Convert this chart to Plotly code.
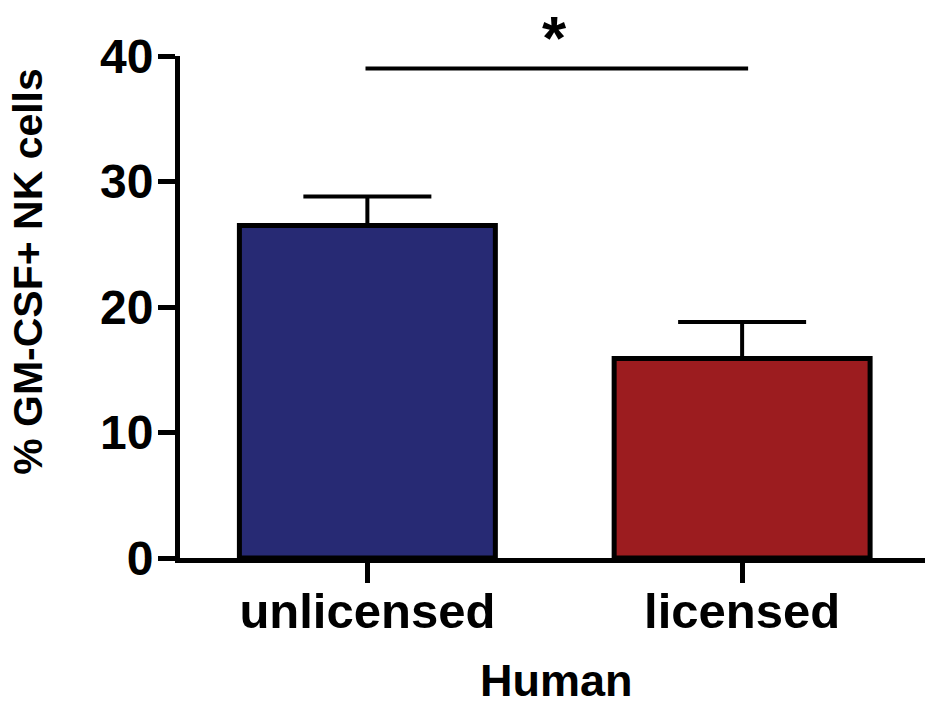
import plotly.graph_objects as go

categories = ["unlicensed", "licensed"]
means = [26.5, 15.9]
sem = [2.3, 2.9]
bar_colors = ["#272A74", "#9C1C1F"]
y_ticks = [0, 10, 20, 30, 40]
y_title = "% GM-CSF+ NK cells"
x_title = "Human"
sig_label = "*"
sig_level = 39.0

FONT = "Liberation Sans, Arial, sans-serif"

fig = go.Figure()
fig.add_trace(go.Bar(
    x=list(range(len(categories))),
    y=means,
    width=0.683,
    marker=dict(color=bar_colors, line=dict(color="black", width=5)),
    error_y=dict(type="data", symmetric=False, array=sem,
                 arrayminus=[0] * len(sem), color="black",
                 thickness=4, width=64),
    showlegend=False,
))

# significance bracket
fig.add_shape(type="line", xref="x", yref="y",
              x0=-0.005, x1=1.016, y0=sig_level, y1=sig_level,
              line=dict(color="black", width=4))
fig.add_annotation(x=0.5, y=1.036, xref="x", yref="paper",
                   text="<b>" + sig_label + "</b>", showarrow=False,
                   yanchor="middle",
                   font=dict(family=FONT, size=62, color="black"))

# axis titles
fig.add_annotation(xref="paper", yref="paper", x=0, y=0.57, xshift=-152,
                   text="<b>" + y_title + "</b>", textangle=-90,
                   showarrow=False, xanchor="center", yanchor="middle",
                   font=dict(family=FONT, size=41, color="black"))
fig.add_annotation(xref="paper", yref="paper", x=0.505, y=-0.245,
                   text="<b>" + x_title + "</b>", showarrow=False,
                   xanchor="center", yanchor="middle",
                   font=dict(family=FONT, size=45, color="black"))

fig.update_layout(
    width=925, height=709,
    margin=dict(l=180, r=0, t=56, b=151),
    paper_bgcolor="white", plot_bgcolor="white",
    font=dict(family=FONT, color="black"),
)
fig.update_xaxes(
    range=[-0.5, 1.488],
    tickmode="array", tickvals=list(range(len(categories))),
    ticktext=["<b>" + c + "</b>" for c in categories],
    tickfont=dict(family=FONT, size=49, color="black"),
    ticks="outside", ticklen=20, tickwidth=5, tickcolor="black",
    ticklabelstandoff=-14,
    showline=True, linecolor="black", linewidth=5,
    showgrid=False, zeroline=False,
)
fig.update_yaxes(
    range=[0, 40],
    tickmode="array", tickvals=y_ticks,
    ticktext=["<b>%d</b>" % v for v in y_ticks],
    tickfont=dict(family=FONT, size=48, color="black"),
    ticks="outside", ticklen=17, tickwidth=5, tickcolor="black",
    ticklabelstandoff=-5,
    showline=True, linecolor="black", linewidth=5,
    showgrid=False, zeroline=False,
)

fig.write_html("out.html")
